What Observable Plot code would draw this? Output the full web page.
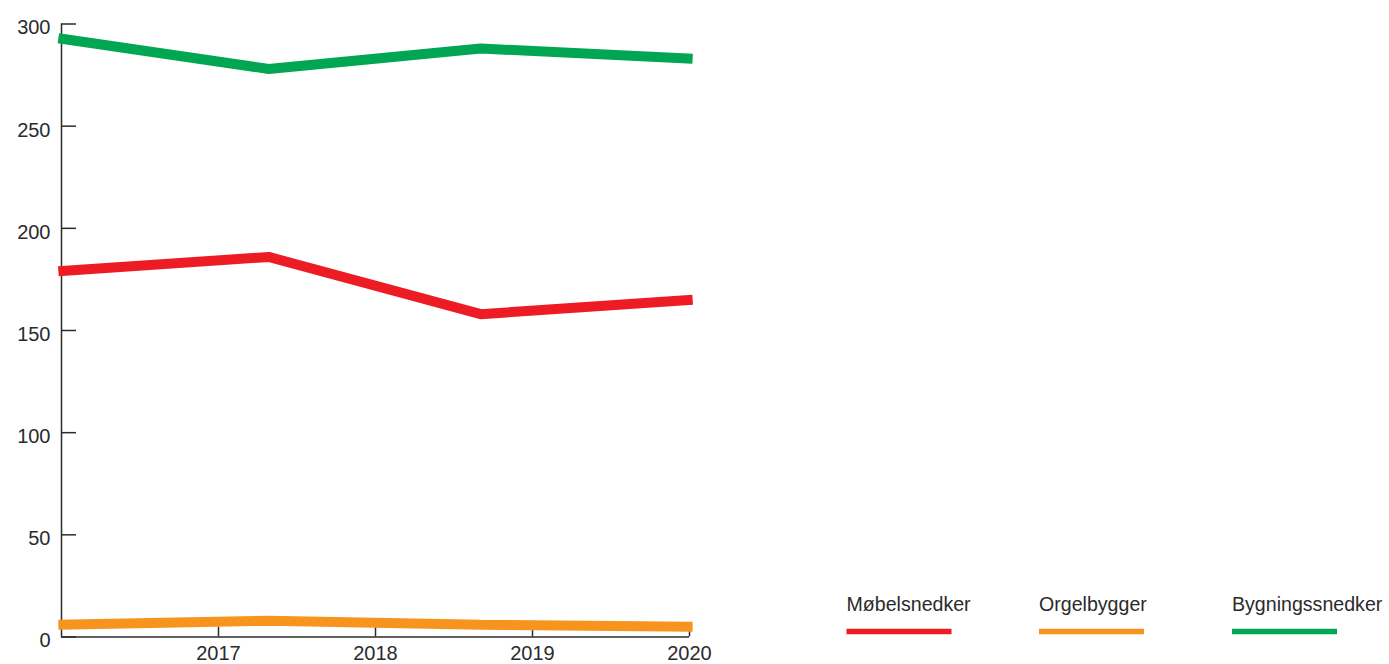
<!DOCTYPE html>
<html>
<head>
<meta charset="utf-8">
<script src="https://cdn.jsdelivr.net/npm/d3@7"></script>
<script src="https://cdn.jsdelivr.net/npm/@observablehq/plot@0.6"></script>
<style>
  html, body { margin: 0; padding: 0; background: #fff; }
  #chart { position: relative; width: 1389px; height: 664px; }
  svg { font-family: "Liberation Sans", Arial, sans-serif; }
</style>
</head>
<body>
<div id="chart"></div>
<script>
// ---- data ----
const series = ["Møbelsnedker", "Orgelbygger", "Bygningssnedker"];
const colors = ["#ed1c24", "#f7941d", "#00a651"];
// positions of the four data points along the time axis (as drawn)
const pointPos = [2015.98, 2017.32, 2018.67, 2020.02];
const mobelsnedker = [179, 186, 158, 165];
const orgelbygger = [6, 8, 6, 5];
const bygningssnedker = [293, 278, 288, 283];
const xTicks = [2017, 2018, 2019, 2020];
const yTicks = [0, 50, 100, 150, 200, 250, 300];

const values = [mobelsnedker, orgelbygger, bygningssnedker];
const rows = [];
series.forEach((s, i) => values[i].forEach((v, j) => rows.push({series: s, x: pointPos[j], value: v})));

const ink = "#2b2b2b";
const font = "'Liberation Sans', Arial, sans-serif";

const svg = Plot.plot({
  width: 1389,
  height: 664,
  marginLeft: 61,
  marginRight: 700,
  marginTop: 23.5,
  marginBottom: 27.5,
  style: {fontFamily: font, fontSize: "20px", color: ink, background: "#fff"},
  x: {domain: [2016, 2020]},
  y: {domain: [0, 300]},
  color: {domain: series, range: colors},
  marks: [
    Plot.ruleX([2016], {stroke: ink, strokeWidth: 1.5}),
    Plot.ruleY([0], {stroke: ink, strokeWidth: 1.5}),
    Plot.axisY({ticks: yTicks, tickSize: -15, tickFormat: () => "", stroke: ink, strokeWidth: 1.5, label: null}),
    Plot.text(yTicks, {y: d => d, text: d => String(d), frameAnchor: "left", textAnchor: "end", dx: -11, dy: 4, fill: ink, fontSize: 20}),
    Plot.axisX({ticks: xTicks, tickSize: -10, tickPadding: 18.5, tickFormat: d => String(d), stroke: ink, strokeWidth: 1.5, fill: ink, fontSize: 20, label: null}),
    Plot.line(rows, {x: "x", y: "value", z: "series", stroke: "series", strokeWidth: 10, strokeLinecap: "butt", strokeLinejoin: "miter"})
  ]
});

// legend drawn into the same svg
const sel = d3.select(svg);
const legendX = [846.5, 1039, 1232];
const g = sel.append("g").attr("class", "legend").attr("text-anchor", "start");
series.forEach((s, i) => {
  g.append("text")
    .attr("x", legendX[i]).attr("y", 610.5)
    .attr("fill", ink)
    .attr("text-anchor", "start")
    .style("font-family", font)
    .style("font-size", "19.6px")
    .text(s);
  g.append("line")
    .attr("x1", legendX[i]).attr("x2", legendX[i] + 105)
    .attr("y1", 631.5).attr("y2", 631.5)
    .attr("stroke", colors[i]).attr("stroke-width", 5.5);
});

document.getElementById("chart").appendChild(svg);
</script>
</body>
</html>
